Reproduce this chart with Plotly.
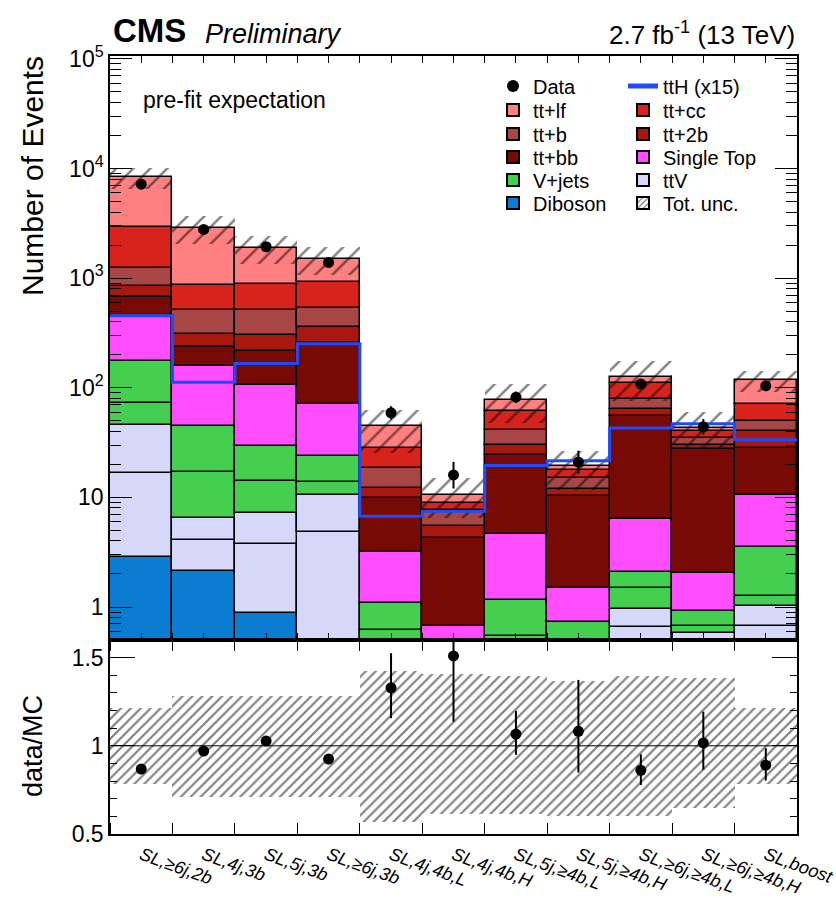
import plotly.graph_objects as go

# ---------------- data ----------------
categories = ["SL,≥6j,2b", "SL,4j,3b", "SL,5j,3b", "SL,≥6j,3b", "SL,4j,4b,L", "SL,4j,4b,H",
              "SL,5j,≥4b,L", "SL,5j,≥4b,H", "SL,≥6j,≥4b,L", "SL,≥6j,≥4b,H", "SL,boost"]

diboson    = [2.84, 2.15, 0.885, 0.1, 0.02, 0.01, 0.02, 0.02, 0.03, 0.02, 0.03]
ttv_a      = [13.9, 1.97, 2.9, 4.7, 0.23, 0.07, 0.18, 0.23, 0.625, 0.43, 0.64]
ttv_b      = [29.1, 2.38, 3.43, 5.6, 0.15, 0.07, 0.15, 0.15, 0.295, 0.13, 0.35]
vjets_a    = [26.9, 10.4, 6.78, 3.3, 0.22, 0.10, 0.19, 0.10, 0.53, 0.09, 0.23]
vjets_b    = [103.9, 28.2, 15.7, 10.3, 0.47, 0.15, 0.63, 0.23, 0.60, 0.25, 2.29]
single_top = [271.4, 113.9, 77.3, 47.6, 2.07, 0.27, 3.51, 0.77, 4.29, 1.13, 7.06]
ttbb       = [219, 77, 111, 183, 6.74, 3.6, 19.9, 8.7, 48.4, 25.65, 17.7]
tt2b       = [186, 75, 87, 100, 2.3, 1.18, 5.7, 1.7, 9.3, 2.6, 11.8]
ttb        = [391, 204, 203, 179, 6.4, 2.29, 11.2, 3.2, 15.0, 4.6, 10.0]
ttcc       = [1679, 356, 381, 380, 9.7, 1.16, 19.4, 2.6, 31.5, 5.2, 21.5]
ttlf       = [5357, 1993, 991, 589, 16.1, 1.7, 16.0, 1.7, 14.9, 3.2, 45.2]
tth_x15    = [454, 112, 166, 252, 6.73, 7.47, 19.5, 21.6, 42.9, 46.8, 33.6]
data       = [7190, 2778, 1931, 1390, 59, 16, 82, 21, 108, 44, 104]
unc_up     = [0.215, 0.285, 0.285, 0.285, 0.424, 0.405, 0.395, 0.367, 0.395, 0.386, 0.215]
unc_down   = [0.217, 0.289, 0.289, 0.289, 0.432, 0.384, 0.384, 0.399, 0.399, 0.355, 0.217]

y_ticks_main = [1, 10, 100, 1000, 10000, 100000]
y_ticktext_main = ["1", "10", "10<sup>2</sup>", "10<sup>3</sup>", "10<sup>4</sup>", "10<sup>5</sup>"]
y_ticks_ratio = [0.5, 1.0, 1.5]
y_ticktext_ratio = ["0.5", "1", "1.5"]

# legend layout: two columns x six rows, as in the ROOT legend
legend_grid = {
    "Data": (0, 0), "ttH (x15)": (1, 0),
    "tt+lf": (0, 1), "tt+cc": (1, 1),
    "tt+b": (0, 2), "tt+2b": (1, 2),
    "tt+bb": (0, 3), "Single Top": (1, 3),
    "V+jets": (0, 4), "ttV": (1, 4),
    "Diboson": (0, 5), "Tot. unc.": (1, 5),
}

# ---------------- geometry helpers ----------------
W, H = 836, 898
PL, PR, PT, PB = 110, 797, 56, 834
SPLIT = 640
FONT = "Liberation Sans"
LEG_COL_X = [493, 623]
LEG_ROW_Y = [86, 110, 134, 157, 180, 203]


def fx(px):
    return (px - PL) / (PR - PL)


def fy(py):
    return (PB - py) / (PB - PT)


leg_ids = {}
legend_layout = {}
for k, (name, (c, r)) in enumerate(legend_grid.items()):
    lid = "legend" if k == 0 else "legend%d" % (k + 1)
    leg_ids[name] = lid
    legend_layout[lid] = dict(
        x=fx(LEG_COL_X[c]), y=fy(LEG_ROW_Y[r]), xanchor="left", yanchor="middle",
        bgcolor="rgba(0,0,0,0)", borderwidth=0,
        font=dict(family=FONT, size=20, color="black"), itemsizing="constant")

n = len(categories)
centers = [i + 0.5 for i in range(n)]
edges = list(range(n + 1))

procs = [
    ("Diboson", diboson, "#0A7DD3", True),
    ("ttV", ttv_a, "#D6D8FA", True),
    ("ttV", ttv_b, "#D6D8FA", False),
    ("V+jets", vjets_a, "#45CF50", True),
    ("V+jets", vjets_b, "#45CF50", False),
    ("Single Top", single_top, "#FF4DFF", True),
    ("tt+bb", ttbb, "#780A05", True),
    ("tt+2b", tt2b, "#A8180E", True),
    ("tt+b", ttb, "#A84646", True),
    ("tt+cc", ttcc, "#D8231D", True),
    ("tt+lf", ttlf, "#FF8080", True),
]

fig = go.Figure()

running = [0.0] * n
for name, vals, col, show in procs:
    fig.add_trace(go.Bar(
        x=centers, y=vals, base=list(running), width=1.0,
        marker=dict(color=col, line=dict(color="black", width=1.5)),
        name=name, showlegend=show, legend=leg_ids[name],
        xaxis="x", yaxis="y", hoverinfo="skip"))
    running = [r + v for r, v in zip(running, vals)]

mc_total = running

# uncertainty band (main)
fig.add_trace(go.Bar(
    x=centers,
    y=[m * (u + d) for m, u, d in zip(mc_total, unc_up, unc_down)],
    base=[m * (1 - d) for m, d in zip(mc_total, unc_down)],
    width=1.0,
    marker=dict(color="rgba(0,0,0,0)", line=dict(width=0),
                pattern=dict(shape="/", fgcolor="black", bgcolor="rgba(0,0,0,0)",
                             size=12, solidity=0.2, fillmode="overlay")),
    name="Tot. unc.", showlegend=False, xaxis="x", yaxis="y"))

# legend entry for the uncertainty (outlined hatched box)
fig.add_trace(go.Bar(
    x=[None], y=[None],
    marker=dict(color="white", line=dict(color="black", width=1.5),
                pattern=dict(shape="/", fgcolor="black", bgcolor="white", size=5, solidity=0.3)),
    name="Tot. unc.", legend=leg_ids["Tot. unc."], xaxis="x", yaxis="y"))

# ttH line
fig.add_trace(go.Scatter(
    x=edges, y=tth_x15 + [tth_x15[-1]], mode="lines",
    line=dict(shape="hv", color="#1F4BFF", width=3),
    name="ttH (x15)", legend=leg_ids["ttH (x15)"], xaxis="x", yaxis="y"))


def poisson_err(N):
    lo = N * (1 - 1 / (9 * N) - 1 / (3 * N ** 0.5)) ** 3
    hi = (N + 1) * (1 - 1 / (9 * (N + 1)) + 1 / (3 * (N + 1) ** 0.5)) ** 3
    return N - lo, hi - N


errs = [poisson_err(v) for v in data]
err_lo = [e[0] for e in errs]
err_hi = [e[1] for e in errs]

fig.add_trace(go.Scatter(
    x=centers, y=data, mode="markers",
    marker=dict(color="black", size=11),
    error_y=dict(type="data", symmetric=False, array=err_hi, arrayminus=err_lo,
                 color="black", thickness=2, width=0),
    name="Data", legend=leg_ids["Data"], xaxis="x", yaxis="y"))

# ratio band
fig.add_trace(go.Bar(
    x=centers, y=[u + d for u, d in zip(unc_up, unc_down)], base=[1 - d for d in unc_down],
    width=1.0,
    marker=dict(color="rgba(0,0,0,0)", line=dict(width=0),
                pattern=dict(shape="/", fgcolor="black", bgcolor="rgba(0,0,0,0)",
                             size=7, solidity=0.3, fillmode="overlay")),
    showlegend=False, xaxis="x2", yaxis="y2"))

ratio = [d / m for d, m in zip(data, mc_total)]
fig.add_trace(go.Scatter(
    x=centers, y=ratio, mode="markers",
    marker=dict(color="black", size=11),
    error_y=dict(type="data", symmetric=False,
                 array=[e / m for e, m in zip(err_hi, mc_total)],
                 arrayminus=[e / m for e, m in zip(err_lo, mc_total)],
                 color="black", thickness=2, width=0),
    showlegend=False, xaxis="x2", yaxis="y2"))

split_frac = fy(SPLIT)

axis_common = dict(showline=True, linecolor="black", linewidth=1.5, mirror="allticks",
                   showgrid=False, zeroline=False, tickcolor="black", automargin=False)

fig.update_layout(
    width=W, height=H,
    margin=dict(l=PL, r=W - PR, t=PT, b=H - PB, autoexpand=False),
    paper_bgcolor="white", plot_bgcolor="white",
    barmode="overlay", bargap=0,
    font=dict(family=FONT, color="black"),
    xaxis=dict(domain=[0, 1], range=[0, n], anchor="y", ticks="inside", tickmode="linear",
               tick0=0, dtick=0.5, ticklen=7, showticklabels=False, **axis_common),
    xaxis2=dict(domain=[0, 1], range=[0, n], anchor="y2", matches="x", tickmode="array",
                tickvals=centers, ticktext=categories, ticks="", tickangle=20,
                ticklabelstandoff=2, ticklabeloverflow="allow",
                tickfont=dict(family=FONT, size=18, style="italic"),
                minor=dict(tickmode="array", tickvals=edges, ticks="inside", ticklen=11,
                           tickcolor="black", showgrid=False),
                **axis_common),
    yaxis=dict(domain=[split_frac, 1], type="log", range=[-0.301, 5.0255], anchor="x",
               tickmode="array", tickvals=y_ticks_main, ticktext=y_ticktext_main,
               ticks="inside", ticklen=22, tickfont=dict(size=23),
               minor=dict(tickmode="array",
                          tickvals=[k * 10 ** e for e in range(-1, 5) for k in range(2, 10)],
                          ticks="inside", ticklen=11, tickcolor="black", showgrid=False),
               **axis_common),
    yaxis2=dict(domain=[0, split_frac], range=[0.5, 1.6], anchor="x2",
                tickmode="array", tickvals=y_ticks_ratio, ticktext=y_ticktext_ratio,
                ticks="inside", ticklen=25, tickfont=dict(size=23),
                minor=dict(tickmode="array", tickvals=[0.6, 0.7, 0.8, 0.9, 1.1, 1.2, 1.3, 1.4],
                           ticks="inside", ticklen=7, tickcolor="black", showgrid=False),
                **axis_common),
    shapes=[dict(type="line", xref="x2", yref="y2", x0=0, x1=n, y0=1, y1=1,
                 line=dict(color="black", width=1))],
    **legend_layout,
)

ann = [
    dict(text="<b>CMS</b>", x=fx(111), y=fy(31), xanchor="left", yanchor="middle",
         font=dict(size=33)),
    dict(text="<i>Preliminary</i>", x=fx(203), y=fy(34), xanchor="left", yanchor="middle",
         font=dict(size=27)),
    dict(text="2.7 fb<sup>-1</sup> (13 TeV)", x=fx(797), y=fy(33), xanchor="right",
         yanchor="middle", font=dict(size=26)),
    dict(text="pre-fit expectation", x=fx(141), y=fy(100), xanchor="left", yanchor="middle",
         font=dict(size=23)),
    dict(text="Number of Events", x=fx(33), y=fy(176), xanchor="center", yanchor="middle",
         textangle=-90, font=dict(size=30)),
    dict(text="data/MC", x=fx(33), y=fy(746), xanchor="center", yanchor="middle",
         textangle=-90, font=dict(size=27)),
]
for a in ann:
    a.update(xref="paper", yref="paper", showarrow=False)
    a["font"].update(family=FONT, color="black")
fig.update_layout(annotations=ann)

fig.write_html("out.html")
